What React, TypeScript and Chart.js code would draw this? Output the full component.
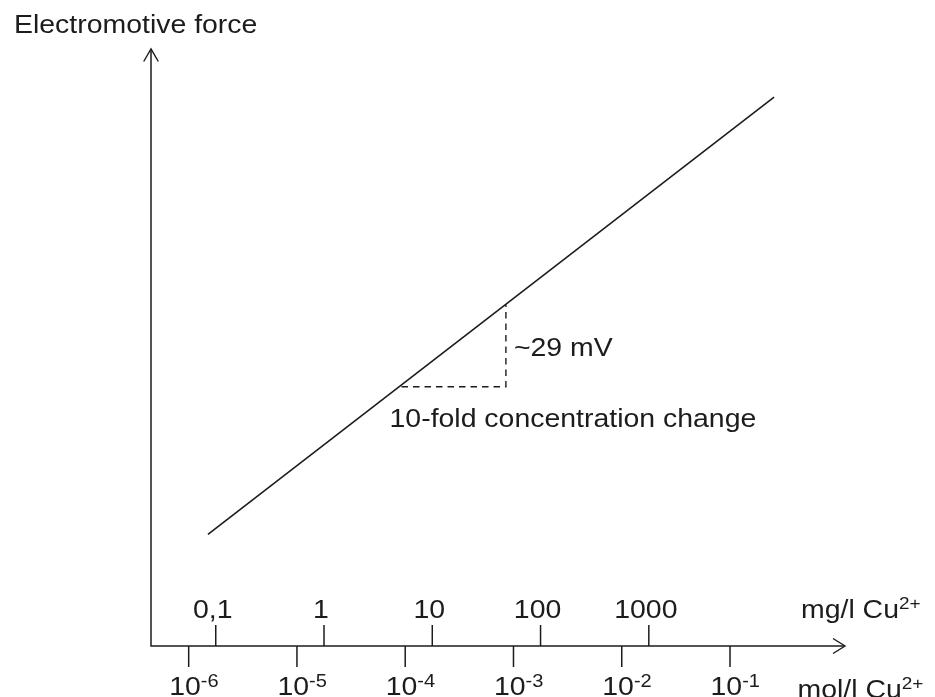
import React, { useEffect, useRef } from "react";
import { Chart, registerables } from "chart.js";

Chart.register(...registerables);

// Lower axis: exponents of mol/l Cu2+ (x value = log10 of mol/l)
const molExponents = [-6, -5, -4, -3, -2, -1];
// Upper axis: mg/l Cu2+ labels and their positions on the log10(mol/l) scale
const mgLabels = ["0,1", "1", "10", "100", "1000"];
const mgTickPositions = [-5.75, -4.75, -3.75, -2.75, -1.75];
// Electromotive force line (y in mV, arbitrary origin)
const emfLineX = [-5.822, -0.593];
const emfLineY = [38.7, 190.3];
// 10-fold change step triangle
const stepX = [-4.034, -3.07, -3.07];
const stepY = [89.9, 89.9, 118.3];

const X_MIN = -6.348;
const X_MAX = 0.062;
const Y_MIN = 0;
const Y_MAX = 207;

const INK = "#1c1c1c";
const FONT = '"Liberation Sans", Arial, Helvetica, sans-serif';
const SX = 1.115;

function drawText(
  ctx: CanvasRenderingContext2D,
  text: string,
  x: number,
  y: number,
  size: number,
  align: "left" | "center" | "right" = "left"
) {
  ctx.save();
  ctx.font = `${size}px ${FONT}`;
  ctx.textBaseline = "alphabetic";
  ctx.textAlign = "left";
  const w = ctx.measureText(text).width * SX;
  let left = x;
  if (align === "center") left = x - w / 2;
  if (align === "right") left = x - w;
  ctx.translate(left, y);
  ctx.scale(SX, 1);
  ctx.fillStyle = INK;
  ctx.fillText(text, 0, 0);
  ctx.restore();
  return w;
}

const axesPlugin = {
  id: "schematicAxes",
  afterDatasetsDraw(chart: any) {
    const ctx: CanvasRenderingContext2D = chart.ctx;
    const xs = chart.scales.x;
    const ys = chart.scales.y;
    const { left, right, top, bottom } = chart.chartArea;
    ctx.save();
    ctx.strokeStyle = INK;
    ctx.lineWidth = 1.5;
    ctx.lineCap = "butt";
    // axes
    ctx.beginPath();
    ctx.moveTo(left, top);
    ctx.lineTo(left, bottom);
    ctx.lineTo(right, bottom);
    ctx.stroke();
    // arrow heads
    ctx.lineWidth = 1.4;
    ctx.beginPath();
    ctx.moveTo(left - 7.3, top + 12.5);
    ctx.lineTo(left, top);
    ctx.lineTo(left + 7.3, top + 12.5);
    ctx.stroke();
    ctx.beginPath();
    ctx.moveTo(right - 12, bottom - 7.5);
    ctx.lineTo(right, bottom);
    ctx.lineTo(right - 12, bottom + 7.5);
    ctx.stroke();
    // lower ticks (mol/l)
    ctx.lineWidth = 1.5;
    molExponents.forEach((e) => {
      const px = xs.getPixelForValue(e);
      ctx.beginPath();
      ctx.moveTo(px, bottom);
      ctx.lineTo(px, bottom + 21);
      ctx.stroke();
      const w = drawText(ctx, "10", px - 19.5, bottom + 49, 25.5, "left");
      drawText(ctx, String(e), px - 19.5 + w, bottom + 40.5, 18, "left");
    });
    // upper ticks (mg/l)
    mgTickPositions.forEach((v, i) => {
      const px = xs.getPixelForValue(v);
      ctx.beginPath();
      ctx.moveTo(px, bottom);
      ctx.lineTo(px, bottom - 21);
      ctx.stroke();
      drawText(ctx, mgLabels[i], px - 3, bottom - 27.7, 25.5, "center");
    });
    ctx.restore();

    // axis titles
    const w1 = drawText(ctx, "mg/l Cu", 801, bottom - 27.7, 25.5, "left");
    drawText(ctx, "2+", 801 + w1, bottom - 36.7, 17, "left");
    const w2 = drawText(ctx, "mol/l Cu", 797.5, bottom + 51.5, 25.5, "left");
    drawText(ctx, "2+", 797.5 + w2, bottom + 43.3, 17, "left");
    drawText(ctx, "Electromotive force", 14, 33.3, 25.5, "left");

    // step annotations
    const vx = xs.getPixelForValue(stepX[2]);
    const vyMid = (ys.getPixelForValue(stepY[1]) + ys.getPixelForValue(stepY[2])) / 2;
    drawText(ctx, "~29 mV", vx + 8, vyMid + 10, 25.5, "left");
    const hx = xs.getPixelForValue(stepX[0]);
    const hy = ys.getPixelForValue(stepY[0]);
    drawText(ctx, "10-fold concentration change", hx - 12, hy + 40, 25.5, "left");
  },
};

export default function App() {
  const ref = useRef<HTMLCanvasElement | null>(null);
  useEffect(() => {
    if (!ref.current) return;
    const chart = new Chart(ref.current, {
      type: "scatter",
      data: {
        datasets: [
          {
            data: emfLineX.map((x, i) => ({ x, y: emfLineY[i] })),
            showLine: true,
            borderColor: INK,
            borderWidth: 1.6,
            pointRadius: 0,
            fill: false,
          },
          {
            data: stepX.map((x, i) => ({ x, y: stepY[i] })),
            showLine: true,
            borderColor: INK,
            borderWidth: 1.4,
            borderDash: [6.5, 5],
            pointRadius: 0,
            fill: false,
          },
        ],
      },
      options: {
        responsive: false,
        animation: false,
        layout: { padding: { left: 151, right: 90, top: 49, bottom: 51 } },
        plugins: {
          legend: { display: false },
          tooltip: { enabled: false },
        },
        scales: {
          x: { type: "linear", min: X_MIN, max: X_MAX, display: false },
          y: { type: "linear", min: Y_MIN, max: Y_MAX, display: false },
        },
      },
      plugins: [axesPlugin],
    });
    return () => chart.destroy();
  }, []);
  return (
    <div style={{ position: "absolute", left: 0, top: 0, width: 935, height: 697, background: "#fff" }}>
      <canvas ref={ref} width={935} height={697} style={{ display: "block" }} />
    </div>
  );
}
